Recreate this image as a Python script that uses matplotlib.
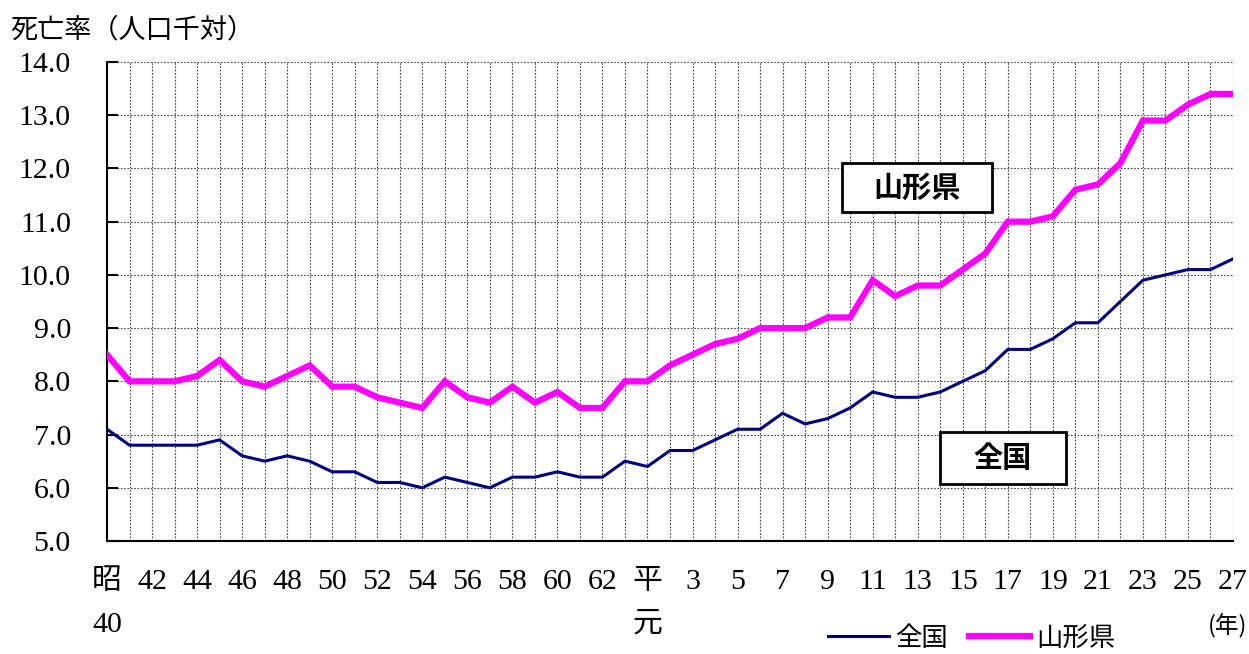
import matplotlib
matplotlib.use("Agg")
import matplotlib.pyplot as plt
from matplotlib.lines import Line2D
from matplotlib.patches import Rectangle

# ---- data ----
years = ["昭\n40", "41", "42", "43", "44", "45", "46", "47", "48", "49", "50", "51", "52",
         "53", "54", "55", "56", "57", "58", "59", "60", "61", "62", "63",
         "平\n元", "2", "3", "4", "5", "6", "7", "8", "9", "10", "11", "12", "13", "14",
         "15", "16", "17", "18", "19", "20", "21", "22", "23", "24", "25", "26", "27"]
national = [7.1, 6.8, 6.8, 6.8, 6.8, 6.9, 6.6, 6.5, 6.6, 6.5, 6.3, 6.3, 6.1, 6.1, 6.0,
            6.2, 6.1, 6.0, 6.2, 6.2, 6.3, 6.2, 6.2, 6.5,
            6.4, 6.7, 6.7, 6.9, 7.1, 7.1, 7.4, 7.2, 7.3, 7.5, 7.8, 7.7, 7.7, 7.8,
            8.0, 8.2, 8.6, 8.6, 8.8, 9.1, 9.1, 9.5, 9.9, 10.0, 10.1, 10.1, 10.3]
yamagata = [8.5, 8.0, 8.0, 8.0, 8.1, 8.4, 8.0, 7.9, 8.1, 8.3, 7.9, 7.9, 7.7, 7.6, 7.5,
            8.0, 7.7, 7.6, 7.9, 7.6, 7.8, 7.5, 7.5, 8.0,
            8.0, 8.3, 8.5, 8.7, 8.8, 9.0, 9.0, 9.0, 9.2, 9.2, 9.9, 9.6, 9.8, 9.8,
            10.1, 10.4, 11.0, 11.0, 11.1, 11.6, 11.7, 12.1, 12.9, 12.9, 13.2, 13.4, 13.4]
y_ticks = [5.0, 6.0, 7.0, 8.0, 9.0, 10.0, 11.0, 12.0, 13.0, 14.0]
series_names = ["全国", "山形県"]

NUM = ["Liberation Serif", "Noto Sans CJK JP"]
JP = ["Noto Sans CJK JP", "DejaVu Sans"]

fig = plt.figure(figsize=(12.49, 6.54), dpi=100)
ax = fig.add_axes([107/1249, 1 - 541/654, (1233-107)/1249, (541-62)/654])

x = list(range(len(years)))
ax.plot(x, national, color="#000080", lw=2.2, solid_joinstyle="miter", zorder=3)
ax.plot(x, yamagata, color="#FF00FF", lw=4.5, solid_joinstyle="miter", zorder=4)

ax.set_xlim(0, len(years) - 1)
ax.set_ylim(5.0, 14.0)

# grid
for xi in x[1:]:
    ax.axvline(xi, color="#444444", lw=0.8, ls=(0, (1.5, 1.5)), zorder=1)
for yv in y_ticks[1:]:
    ax.axhline(yv, color="#444444", lw=0.8, ls=(0, (1.5, 1.5)), zorder=1)

for s in ["top", "right"]:
    ax.spines[s].set_visible(False)
for s in ["left", "bottom"]:
    ax.spines[s].set_linewidth(1.5)
    ax.spines[s].set_color("black")

ax.tick_params(axis="y", direction="in", length=8, width=1.5, pad=26)
ax.tick_params(axis="x", length=0, pad=20)

ax.set_yticks(y_ticks)
ax.set_yticklabels([f"{v:.1f}" for v in y_ticks], fontsize=21.5)

tick_pos = x[::2]
ax.set_xticks(tick_pos)
ax.set_xticklabels([years[i] for i in tick_pos], fontsize=21.5,
                   linespacing=1.85, va="top")

for lbl in ax.get_yticklabels() + ax.get_xticklabels():
    lbl.set_fontfamily(NUM)

fig.text(10/1249, 1 - 30/654, "死亡率（人口千対）", family=JP, fontsize=19.5,
         va="center", ha="left")
fig.text(1247/1249, 1 - 626/654, "(年)", family=JP, fontsize=17,
         va="center", ha="right")

# annotation boxes
ax.add_patch(Rectangle((32.64, 11.18), 39.30 - 32.64, 12.105 - 11.18, fc="white",
                       ec="black", lw=2, zorder=6))
ax.text((32.64 + 39.30) / 2, (11.18 + 12.105) / 2, "山形県", family=JP, fontsize=21,
        fontweight="bold", ha="center", va="center", zorder=7)
ax.add_patch(Rectangle((36.99, 6.07), 42.58 - 36.99, 7.05 - 6.07, fc="white",
                       ec="black", lw=2, zorder=6))
ax.text((36.99 + 42.58) / 2, (6.07 + 7.05) / 2, "全国", family=JP, fontsize=21,
        fontweight="bold", ha="center", va="center", zorder=7)

handles = [Line2D([], [], color="#000080", lw=2.2),
           Line2D([], [], color="#FF00FF", lw=4.5)]
fig.legend(handles, series_names, loc="center", bbox_to_anchor=(972/1249, 1 - 638/654),
           ncol=2, frameon=False, prop={"family": JP, "size": 19},
           handlelength=2.3, handletextpad=0.25, columnspacing=0.8, borderpad=0)

fig.savefig("out.png", dpi=100)
